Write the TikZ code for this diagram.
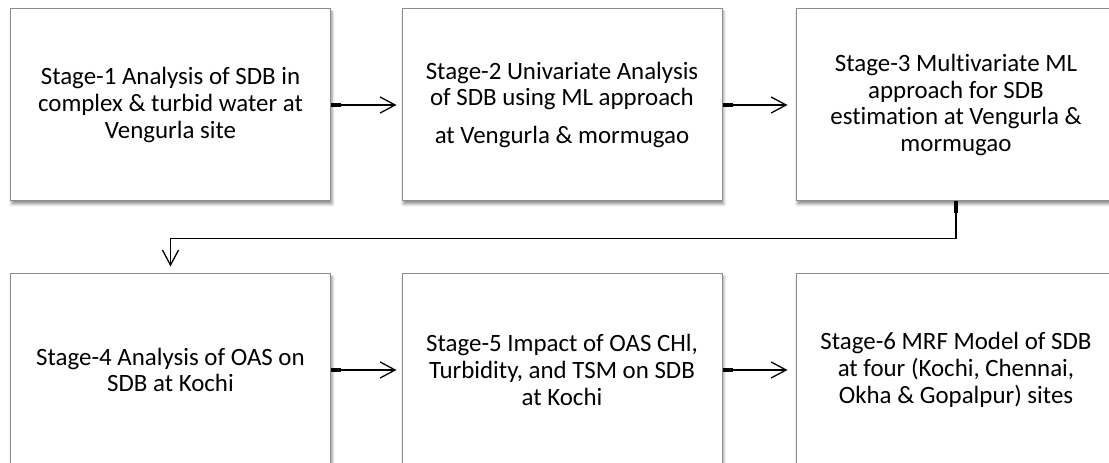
\documentclass[tikz,border=0pt]{standalone}
\usepackage{fontspec}
\setmainfont{Carlito}[Ligatures=NoCommon]
\usetikzlibrary{arrows.meta,shadows.blur}
\definecolor{boxline}{RGB}{140,140,140}
\begin{document}
\begin{tikzpicture}[x=1bp,y=1bp,
  stagebox/.style={draw=boxline, line width=1bp, fill=white,
    minimum width=320bp, minimum height=192bp, inner sep=0pt,
    align=center, font=\fontsize{25}{27}\selectfont,
    blur shadow={shadow xshift=1.5bp, shadow yshift=-3bp,
      shadow blur radius=3bp, shadow opacity=45}},
  flow/.style={line width=1.3bp, -{Straight Barb[length=15bp,width=16bp]}},
  stub/.style={line width=3.5bp}]
\useasboundingbox (0,0) rectangle (1109,463);

% top row
\node[stagebox] (s1) at (170.5,358) {Stage-1 Analysis of SDB in\\complex \& turbid water at\\Vengurla site};
\node[stagebox] (s2) at (562,358) {Stage-2 Univariate Analysis\\of SDB using ML approach\\[11bp]at Vengurla \& mormugao};
\node[stagebox] (s3) at (956,358) {\fontsize{25}{29}\selectfont Stage-3 Multivariate ML\\approach for SDB\\estimation at Vengurla \&\\mormugao};

% bottom row
\node[stagebox] (s4) at (170.5,93) {Stage-4 Analysis of OAS on\\SDB at Kochi};
\node[stagebox] (s5) at (562,93) {Stage-5 Impact of OAS CHl,\\Turbidity, and TSM on SDB\\at Kochi};
\node[stagebox] (s6) at (956,93) {Stage-6 MRF Model of SDB\\at four (Kochi, Chennai,\\Okha \& Gopalpur) sites};

% connectors
\draw[flow, shorten >=5bp] (s1.east) -- (s2.west);
\draw[stub] (s1.east) -- ++(10,0);
\draw[flow, shorten >=8bp] (s2.east) -- (s3.west);
\draw[stub] (s2.east) -- ++(10,0);
\draw[flow, shorten >=7bp] (s3.south) -- ++(0,-37) -| (s4.north);
\draw[stub] (s3.south) -- ++(0,-12);
\draw[flow, shorten >=5bp] (s4.east) -- (s5.west);
\draw[stub] (s4.east) -- ++(10,0);
\draw[flow, shorten >=8bp] (s5.east) -- (s6.west);
\draw[stub] (s5.east) -- ++(10,0);
\end{tikzpicture}
\end{document}
